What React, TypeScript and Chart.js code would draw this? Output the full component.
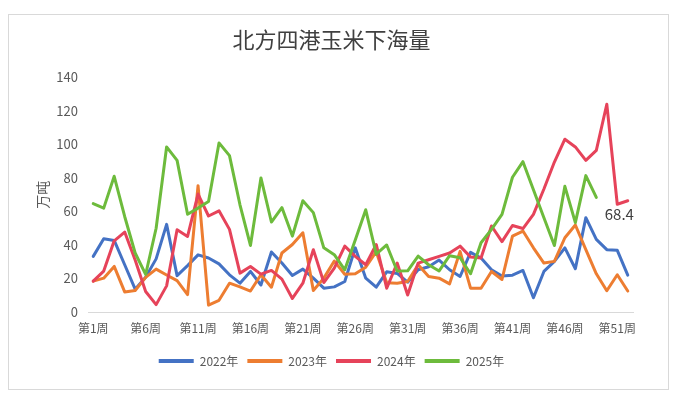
import React, { useEffect, useRef } from "react";
import { Chart, registerables } from "chart.js";

Chart.register(...registerables);

const weeks = Array.from({ length: 52 }, (_, i) => `第${i + 1}周`);

const y2022 = [33.2, 43.7, 42.7, 28.2, 13.6, 20.7, 31.7, 52.3, 21.7, 27.7, 34.1, 32.2, 28.7, 22.2, 17.2, 24.2, 16.1, 35.8, 29.2, 21.8, 25.6, 20.2, 14.2, 15, 18.2, 38.3, 20.2, 14.8, 24, 23, 17.8, 25.2, 27, 31, 25.2, 21.2, 35.6, 32.2, 25.2, 21.5, 22, 24.8, 8.5, 24.2, 30.2, 38.3, 25.8, 56.3, 43.3, 37.2, 36.8, 22];
const y2023 = [18.4, 20.2, 27.2, 12, 12.8, 20.7, 25.6, 22.1, 18.7, 10.4, 75.4, 4.1, 7, 17.2, 15, 12.5, 22.2, 14.8, 35.2, 40.3, 47.3, 12.8, 20.2, 30.4, 22.5, 22.8, 26.7, 36, 17.4, 17.2, 18.2, 28.2, 21.2, 20.2, 16.8, 36.2, 14.2, 14.2, 24.2, 19.4, 45.3, 48.3, 38.3, 29.2, 30.2, 44.3, 51.9, 37.2, 22.8, 12.7, 22.2, 12.5];
const y2024 = [18.4, 24.4, 42.5, 47.7, 31, 12.2, 4.4, 15.6, 49.1, 45.1, 70.4, 57.3, 60.4, 49.3, 23.2, 27.2, 22.6, 24.8, 19.6, 8.1, 17.2, 37.2, 17.6, 26.2, 39.3, 33.2, 28.2, 40.3, 14.2, 29.2, 10.1, 29.2, 31.2, 33.2, 35.2, 39.3, 32.8, 32.2, 51.3, 42, 51.6, 49.8, 58.3, 73.4, 89.5, 103.1, 98.5, 90.5, 96.5, 124, 64.3, 66.4];
const y2025 = [64.7, 62, 81, 57, 35.2, 22.4, 50, 98.5, 90.5, 58.3, 62, 66, 100.9, 93.3, 64, 39.7, 80, 53.7, 62.3, 45.3, 66.4, 59.3, 38.3, 34.2, 25.2, 43, 61, 34.5, 40, 24.5, 24.6, 33.4, 28.2, 24.5, 33.6, 32.4, 22.8, 41.3, 49.3, 58.3, 80.4, 89.7, 73, 56.3, 39.7, 75, 53.3, 81.4, 68.4];

const seriesNames = ["2022年", "2023年", "2024年", "2025年"];
const seriesColors = ["#4472C4", "#ED7D31", "#E6435A", "#6DBB3C"];
const title = "北方四港玉米下海量";
const yTitle = "万吨";

const FONT = '"Noto Sans CJK SC", "Noto Sans", sans-serif';

export default function App() {
  const ref = useRef<HTMLCanvasElement>(null);
  useEffect(() => {
    const labelPlugin = {
      id: "lastLabel",
      afterDatasetsDraw(chart: any) {
        const meta = chart.getDatasetMeta(3);
        const pts = meta.data;
        const p = pts[pts.length - 1];
        if (!p) return;
        const ctx = chart.ctx;
        ctx.save();
        ctx.font = `15px ${FONT}`;
        ctx.fillStyle = "#404040";
        ctx.textAlign = "center";
        ctx.textBaseline = "middle";
        ctx.fillText(String(y2025[y2025.length - 1]), p.x + 23, p.y + 17);
        ctx.restore();
      },
    };
    const all = [y2022, y2023, y2024, y2025];
    const chart = new Chart(ref.current as HTMLCanvasElement, {
      type: "line",
      data: {
        labels: weeks,
        datasets: all.map((d, i) => ({
          label: seriesNames[i],
          data: d,
          borderColor: seriesColors[i],
          backgroundColor: seriesColors[i],
          borderWidth: 3,
          pointRadius: 0,
          tension: 0,
          borderJoinStyle: "round" as const,
          borderCapStyle: "round" as const,
          order: 4 - i,
        })),
      },
      options: {
        animation: false,
        responsive: true,
        maintainAspectRatio: false,
        layout: { padding: { left: 21, right: 35, top: 0, bottom: 12 } },
        plugins: {
          title: {
            display: true,
            text: title,
            color: "#404040",
            font: { family: FONT, size: 22, weight: "normal" },
            padding: { top: 11, bottom: 25 },
          },
          legend: {
            position: "bottom",
            labels: {
              color: "#595959",
              font: { family: FONT, size: 12 },
              boxWidth: 35,
              boxHeight: 4,
              padding: 9,
              generateLabels: (ch: any) =>
                ch.data.datasets.map((ds: any, i: number) => ({
                  text: ds.label,
                  fillStyle: ds.borderColor,
                  strokeStyle: ds.borderColor,
                  lineWidth: 0,
                  hidden: false,
                  datasetIndex: i,
                  fontColor: "#595959",
                })),
            },
          },
          tooltip: { enabled: false },
        },
        scales: {
          x: {
            offset: true,
            grid: { display: false, drawTicks: false },
            border: { display: true, color: "#d9d9d9", width: 1 },
            ticks: {
              autoSkip: false,
              maxRotation: 0,
              minRotation: 0,
              padding: 9,
              color: "#595959",
              font: { family: FONT, size: 12 },
              callback: function (this: any, val: any, index: number) {
                return index % 5 === 0 ? this.getLabelForValue(val) : "";
              },
            },
            afterFit: (s: any) => {
              s.height = 34;
            },
          },
          y: {
            min: 0,
            max: 140,
            grid: { display: false, drawTicks: false },
            border: { display: false },
            ticks: {
              stepSize: 20,
              padding: 10,
              color: "#595959",
              font: { family: FONT, size: 13 },
            },
            title: {
              display: true,
              text: yTitle,
              color: "#595959",
              font: { family: FONT, size: 14 },
              padding: { top: 4, bottom: 4 },
            },
            afterFit: (s: any) => {
              s.width = 58;
            },
          },
        },
      },
      plugins: [labelPlugin],
    });
    return () => chart.destroy();
  }, []);
  return (
    <div
      style={{
        position: "absolute",
        left: 8,
        top: 14,
        width: 661,
        height: 376,
        border: "1px solid #d9d9d9",
        boxSizing: "border-box",
        background: "#fff",
      }}
    >
      <canvas ref={ref} />
    </div>
  );
}
